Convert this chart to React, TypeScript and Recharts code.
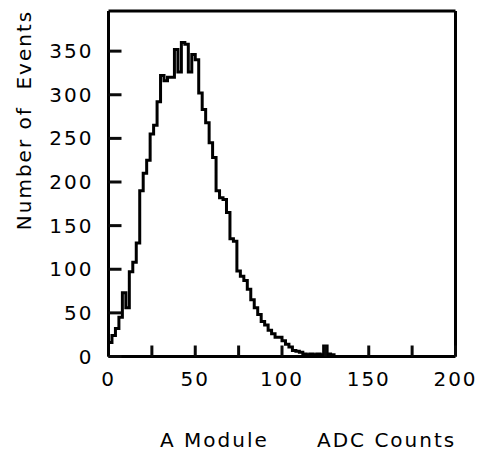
import React from "react";
import { LineChart, Line, XAxis, YAxis, ReferenceLine } from "recharts";

// left edge of each 2-count bin
const binEdges = [
  0, 2, 4, 6, 8, 10, 12, 14, 16, 18, 20, 22, 24, 26, 28, 30, 32, 34, 36, 38,
  40, 42, 44, 46, 48, 50, 52, 54, 56, 58, 60, 62, 64, 66, 68, 70, 72, 74, 76,
  78, 80, 82, 84, 86, 88, 90, 92, 94, 96, 98, 100, 102, 104, 106, 108, 110,
  112, 114, 116, 118, 120, 122, 124, 126, 128, 130, 132,
];

const eventCounts = [
  16, 24, 32, 45, 73, 56, 97, 108, 130, 190, 210, 225, 255, 265, 292, 322, 316,
  320, 320, 352, 326, 360, 358, 326, 346, 340, 302, 283, 268, 245, 228, 190,
  182, 180, 165, 135, 132, 98, 92, 87, 77, 65, 56, 48, 40, 36, 30, 26, 22, 22,
  18, 14, 11, 7, 6, 5, 3, 2, 3, 2, 3, 2, 12, 3, 2, 0, 0,
];

const xTicks = [0, 25, 50, 75, 100, 125, 150, 175, 200];
const yTicks = [0, 50, 100, 150, 200, 250, 300, 350];

const data = binEdges.map((x, i) => ({ adc: x, events: eventCounts[i] }));

const FONT = "'DejaVu Sans', sans-serif";
const Y_MAX = 396;
const INK = "#0a0a0a";

// numbers only every 50 counts, tick marks every 25
const XTick = (props: any) => {
  const { x, y, payload } = props;
  const v = payload.value;
  if (v % 50 !== 0) return <g />;
  return (
    <text
      x={x}
      y={y}
      textAnchor="middle"
      fontFamily={FONT}
      fontSize={20}
      letterSpacing={2}
      fill="#000"
    >
      {v}
    </text>
  );
};

const YTick = (props: any) => {
  const { x, y, payload } = props;
  return (
    <text
      x={x}
      y={y + 7}
      textAnchor="end"
      fontFamily={FONT}
      fontSize={20}
      letterSpacing={2}
      fill="#000"
    >
      {payload.value}
    </text>
  );
};

const titleStyle: React.CSSProperties = {
  position: "absolute",
  fontFamily: FONT,
  fontSize: 20,
  letterSpacing: 2,
  lineHeight: "20px",
  whiteSpace: "pre",
  color: "#000",
};

export default function App() {
  return (
    <div
      style={{
        position: "fixed",
        left: 0,
        top: 0,
        width: 482,
        height: 454,
        background: "#fff",
      }}
    >
      <LineChart
        width={482}
        height={454}
        data={data}
        margin={{ top: 11, right: 26.5, left: 0, bottom: 0 }}
      >
        <XAxis
          dataKey="adc"
          type="number"
          domain={[0, 200]}
          ticks={xTicks}
          interval={0}
          height={97.5}
          tickSize={-11}
          tickMargin={40}
          stroke={INK}
          tickLine={{ stroke: INK, strokeWidth: 3 }}
          axisLine={{ stroke: "#000", strokeWidth: 3 }}
          tick={<XTick />}
        />
        <YAxis
          type="number"
          domain={[0, Y_MAX]}
          ticks={yTicks}
          interval={0}
          width={108.5}
          tickSize={-13}
          tickMargin={28}
          stroke={INK}
          tickLine={{ stroke: INK, strokeWidth: 3 }}
          axisLine={{ stroke: "#000", strokeWidth: 3 }}
          tick={<YTick />}
        />
        <ReferenceLine y={Y_MAX} stroke="#000" strokeWidth={3} />
        <ReferenceLine x={200} stroke="#000" strokeWidth={3} />
        <Line
          type="stepAfter"
          dataKey="events"
          stroke="#000"
          strokeWidth={3}
          dot={false}
          isAnimationActive={false}
        />
      </LineChart>
      <div
        style={{
          ...titleStyle,
          left: 24,
          top: 120,
          transform: "translate(-50%, -50%) rotate(-90deg)",
        }}
      >
        {"Number of  Events"}
      </div>
      <div style={{ ...titleStyle, left: 160, top: 430 }}>A Module</div>
      <div style={{ ...titleStyle, left: 317, top: 430 }}>ADC Counts</div>
    </div>
  );
}
